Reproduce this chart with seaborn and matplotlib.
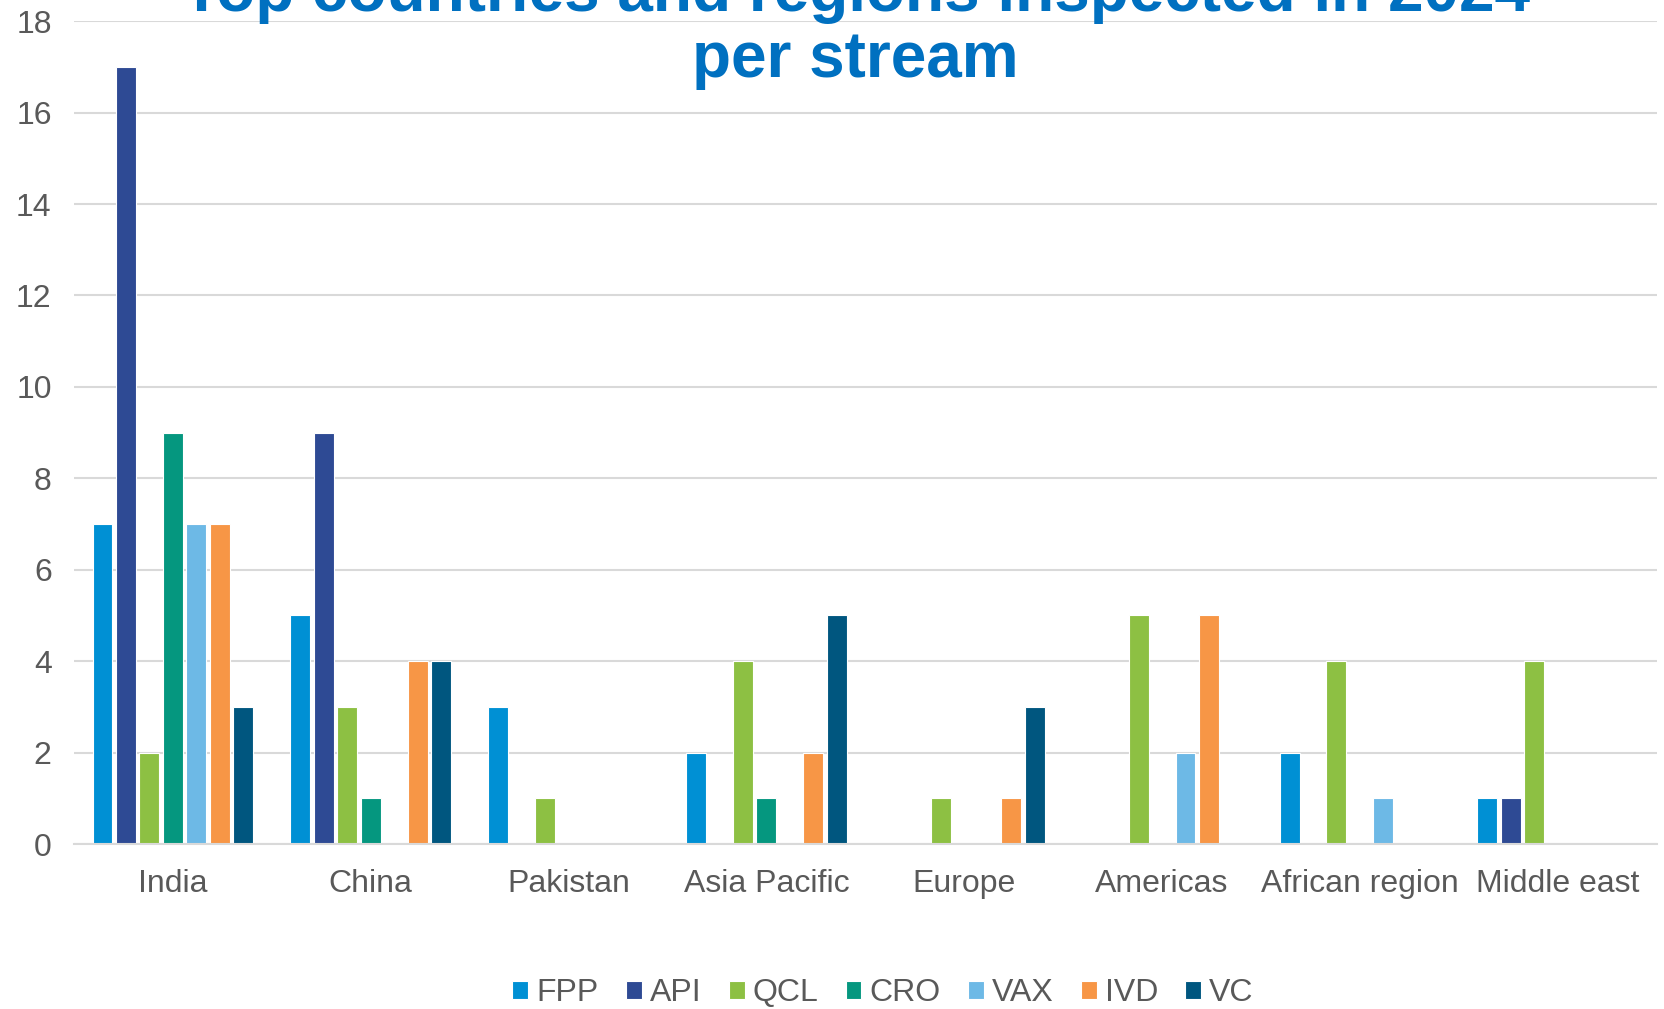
import matplotlib
matplotlib.use("Agg")
import matplotlib.pyplot as plt
import seaborn as sns
import pandas as pd

categories = ["India", "China", "Pakistan", "Asia Pacific", "Europe", "Americas", "African region", "Middle east"]
streams = ["FPP", "API", "QCL", "CRO", "VAX", "IVD", "VC"]
FPP = [7, 5, 3, 2, 0, 0, 2, 1]
API = [17, 9, 0, 0, 0, 0, 0, 1]
QCL = [2, 3, 1, 4, 1, 5, 4, 4]
CRO = [9, 1, 0, 1, 0, 0, 0, 0]
VAX = [7, 0, 0, 0, 0, 2, 1, 0]
IVD = [7, 4, 0, 2, 1, 5, 0, 0]
VC = [3, 4, 0, 5, 3, 0, 0, 0]
colors = ["#0090D4", "#2E4A94", "#8DC043", "#05977F", "#6DB9E6", "#F79646", "#00567F"]
yticks = [0, 2, 4, 6, 8, 10, 12, 14, 16, 18]

series = dict(FPP=FPP, API=API, QCL=QCL, CRO=CRO, VAX=VAX, IVD=IVD, VC=VC)
rows = []
for s in streams:
    for c, v in zip(categories, series[s]):
        rows.append({"Region": c, "Stream": s, "Count": v})
df = pd.DataFrame(rows)

sns.set_theme(style="white")
plt.rcParams['font.family'] = ['Liberation Sans', 'DejaVu Sans']

fig = plt.figure(figsize=(16.65, 10.09), dpi=100)
ax = fig.add_axes([0.0444, 0.1635, 0.9506, 0.8155])

sns.barplot(data=df, x="Region", y="Count", hue="Stream", order=categories, hue_order=streams,
            palette=colors, width=0.83, gap=0.15, edgecolor="white", linewidth=0.8,
            saturation=1, ax=ax, legend=True)

ax.set_ylim(0, 18)
ax.set_yticks(yticks)
ax.set_xlim(-0.5, len(categories) - 0.5)
ax.yaxis.grid(True, color="#D9D9D9", linewidth=1.5)
ax.set_axisbelow(True)
for side in ["left", "right", "top"]:
    ax.spines[side].set_visible(False)
ax.spines["bottom"].set_color("#D9D9D9")
ax.spines["bottom"].set_linewidth(1.5)
ax.tick_params(axis="both", length=0, labelsize=23, colors="#595959")
ax.tick_params(axis="x", pad=18)
ax.tick_params(axis="y", pad=16)
ax.set_xlabel("")
ax.set_ylabel("")

leg = ax.legend(loc="center", bbox_to_anchor=(883 / 1665, 1 - 993 / 1009), bbox_transform=fig.transFigure,
                ncol=7, frameon=False, fontsize=23, handlelength=0.5, handleheight=0.5,
                handletextpad=0.25, columnspacing=0.85)
for t in leg.get_texts():
    t.set_color("#595959")

fig.text(0.514, 1 - 77 / 1009, "Top countries and regions inspected in 2024\nper stream",
         ha="center", va="baseline", fontsize=46, fontweight="bold", color="#0070C0",
         linespacing=1.12)

fig.savefig("out.png", dpi=100)
